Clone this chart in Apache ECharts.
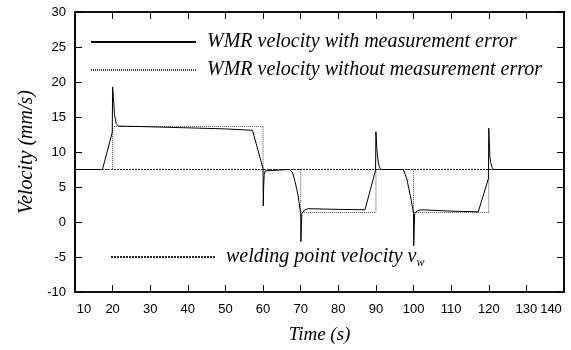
<!DOCTYPE html>
<html>
<head>
<meta charset="utf-8">
<script src="https://cdn.jsdelivr.net/npm/echarts@6/dist/echarts.min.js"></script>
<style>
  html, body { margin: 0; padding: 0; background: #fff; }
  #chart { width: 571px; height: 350px; }
</style>
</head>
<body>
<div id="chart"></div>
<script>
var chartDOM = document.getElementById("chart");
var velocityChart = echarts.init(chartDOM);

// WMR velocity with measurement error (solid)
var measTime = [10, 17.3, 19.9, 20.0, 20.2, 20.5, 20.9, 21.5, 30, 40, 50, 57.2,
  60.0, 60.05, 60.15, 60.3, 60.6, 61.0, 67.0, 67.8, 68.5, 69.3, 70.0, 70.05,
  70.3, 71, 72, 80, 87.1, 89.9, 90.0, 90.3, 90.6, 90.9, 91.3, 97.3, 98.2, 99.4,
  100.0, 100.05, 100.3, 101, 102, 110, 117.2, 119.9, 120.0, 120.3, 120.6,
  120.9, 121.3, 140];
var measVel = [7.5, 7.5, 12.8, 19.3, 17.8, 15.4, 14.1, 13.7, 13.6, 13.45, 13.3, 13.1,
  7.6, 2.3, 5.0, 6.8, 7.3, 7.5, 7.5, 7.1, 5.8, 3.8, 1.2, -2.8,
  1.2, 1.7, 1.9, 1.8, 1.75, 7.4, 12.9, 10.0, 8.6, 7.9, 7.5, 7.5, 6.2, 3.1,
  1.2, -3.4, 1.2, 1.6, 1.75, 1.55, 1.45, 6.2, 13.4, 9.3, 8.3,
  7.8, 7.5, 7.5];

// WMR velocity without measurement error (dotted)
var idealTime = [10, 20, 20, 60, 60, 70, 70, 90, 90, 100, 100, 120, 120, 140];
var idealVel = [7.5, 7.5, 13.65, 13.65, 7.5, 7.5, 1.35, 1.35, 7.5, 7.5, 1.35, 1.35, 7.5, 7.5];

// welding point velocity v_w
var weldTime = [10, 140];
var weldVel = [7.5, 7.5];

var xTicks = { min: 10, max: 140, interval: 10 };
var yTicks = { min: -10, max: 30, interval: 5 };

function pairs(xs, ys) {
  return xs.map(function (x, i) { return [x, ys[i]]; });
}

var serifFont = "Liberation Serif";
var sansFont = "Liberation Sans";

var option = {
  animation: false,
  backgroundColor: "#fff",
  grid: {
    left: 75, right: 7, top: 12, bottom: 58,
    outerBoundsMode: "none",
    show: true, borderColor: "#000", borderWidth: 1.6, backgroundColor: "transparent"
  },
  legend: [
    {
      data: ["WMR velocity with measurement error", "WMR velocity without measurement error"],
      orient: "vertical",
      left: 85,
      top: 27,
      itemWidth: 105,
      itemHeight: 20,
      itemGap: 8,
      selectedMode: false,
      itemStyle: { opacity: 0 },
      textStyle: {
        fontFamily: serifFont, fontStyle: "italic", fontSize: 20,
        color: "#000", lineHeight: 20, padding: [0, 0, 0, 6]
      }
    },
    {
      data: ["welding point velocity"],
      orient: "vertical",
      left: 105,
      top: 240,
      itemWidth: 105,
      itemHeight: 24,
      selectedMode: false,
      itemStyle: { opacity: 0 },
      formatter: function (name) { return "{a|" + name + " v}{s|w}"; },
      textStyle: {
        color: "#000", padding: [0, 0, 0, 5],
        rich: {
          a: { fontFamily: serifFont, fontStyle: "italic", fontSize: 20, lineHeight: 20, color: "#000" },
          s: { fontFamily: serifFont, fontStyle: "italic", fontSize: 12, lineHeight: 12, padding: [12, 0, 0, 0], color: "#000" }
        }
      }
    }
  ],
  xAxis: [
    {
      type: "value",
      min: xTicks.min, max: xTicks.max, interval: xTicks.interval,
      name: "Time (s)",
      nameLocation: "middle",
      nameGap: 33,
      nameTextStyle: { fontFamily: serifFont, fontStyle: "italic", fontSize: 19, color: "#000" },
      splitLine: { show: false },
      axisLine: { show: true, onZero: false, lineStyle: { color: "#000", width: 1.6 } },
      axisTick: { show: true, inside: true, length: 7, lineStyle: { color: "#000", width: 1 } },
      axisLabel: {
        fontFamily: sansFont, fontSize: 13, color: "#000", margin: 11,
        formatter: function (v) {
          if (v === xTicks.min) return "{first|" + v + "}";
          if (v === xTicks.max) return "{last|" + v + "}";
          return "" + v;
        },
        rich: {
          first: { fontFamily: sansFont, fontSize: 13, color: "#000", padding: [0, 0, 0, 18] },
          last: { fontFamily: sansFont, fontSize: 13, color: "#000", padding: [0, 26, 0, 0] }
        }
      }
    },
    {
      type: "value", position: "top",
      min: xTicks.min, max: xTicks.max, interval: xTicks.interval,
      splitLine: { show: false }, axisLabel: { show: false },
      axisLine: { show: true, onZero: false, lineStyle: { color: "#000", width: 1.6 } },
      axisTick: { show: true, inside: true, length: 7, lineStyle: { color: "#000", width: 1 } }
    }
  ],
  yAxis: [
    {
      type: "value",
      min: yTicks.min, max: yTicks.max, interval: yTicks.interval,
      name: "Velocity (mm/s)",
      nameLocation: "middle",
      nameGap: 25,
      nameTextStyle: { fontFamily: serifFont, fontStyle: "italic", fontSize: 20, color: "#000" },
      splitLine: { show: false },
      axisLine: { show: true, onZero: false, lineStyle: { color: "#000", width: 1.6 } },
      axisTick: { show: true, inside: true, length: 7, lineStyle: { color: "#000", width: 1 } },
      axisLabel: { fontFamily: sansFont, fontSize: 13, color: "#000", margin: 9 }
    },
    {
      type: "value", position: "right",
      min: yTicks.min, max: yTicks.max, interval: yTicks.interval,
      splitLine: { show: false }, axisLabel: { show: false },
      axisLine: { show: true, onZero: false, lineStyle: { color: "#000", width: 1.6 } },
      axisTick: { show: true, inside: true, length: 7, lineStyle: { color: "#000", width: 1 } }
    }
  ],
  series: [
    {
      name: "welding point velocity",
      type: "line",
      data: pairs(weldTime, weldVel),
      symbol: "none",
      itemStyle: { color: "#222" },
      lineStyle: { color: "#222", width: 1, type: [2, 1] }
    },
    {
      name: "WMR velocity without measurement error",
      type: "line",
      data: pairs(idealTime, idealVel),
      symbol: "none",
      itemStyle: { color: "#444" },
      lineStyle: { color: "#444", width: 1, type: [1, 1] }
    },
    {
      name: "WMR velocity with measurement error",
      type: "line",
      data: pairs(measTime, measVel),
      symbol: "none",
      itemStyle: { color: "#000" },
      lineStyle: { color: "#000", width: 1 }
    }
  ]
};

option && velocityChart.setOption(option);
</script>
</body>
</html>
